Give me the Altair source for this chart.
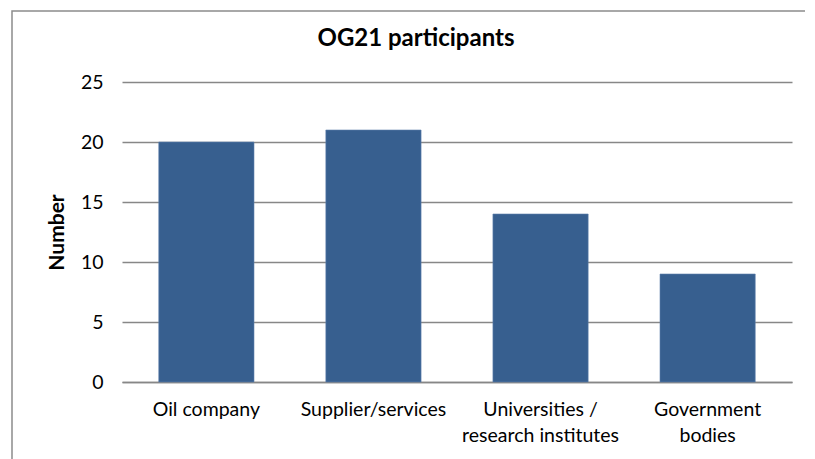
import altair as alt
import pandas as pd

categories = ["Oil company", "Supplier/services", "Universities / research institutes", "Government bodies"]
labels = [["Oil company"], ["Supplier/services"], ["Universities /", "research institutes"], ["Government", "bodies"]]
values = [20, 21, 14, 9]
y_ticks = [0, 5, 10, 15, 20, 25]

df = pd.DataFrame({"category": categories, "value": values})

label_expr = (
    "datum.value == 'Universities / research institutes' ? ['Universities /', 'research institutes'] : "
    "datum.value == 'Government bodies' ? ['Government', 'bodies'] : datum.value"
)

FONT = "Lato"

frame = alt.Chart(pd.DataFrame({"a": [0]})).mark_rect(
    fill="transparent", stroke="#8C8C8C", strokeWidth=1.5
).encode(
    x=alt.value(-110), x2=alt.value(688), y=alt.value(-71), y2=alt.value(420)
)

bars = alt.Chart(df).mark_bar(color="#375F8F", stroke="#5F82AD", strokeWidth=0.6).encode(
    x=alt.X(
        "category:N",
        sort=categories,
        scale=alt.Scale(paddingInner=0.43, paddingOuter=0.22),
        axis=alt.Axis(
            title=None, labelAngle=0, labelExpr=label_expr, labelFont=FONT,
            labelFontSize=19.5, labelColor="#000000", labelPadding=18, labelLineHeight=26,
            ticks=False, domainColor="#878787", domainWidth=1.5, labelLimit=300,
        ),
    ),
    y=alt.Y(
        "value:Q",
        scale=alt.Scale(domain=[0, 25]),
        axis=alt.Axis(
            values=y_ticks, title="Number", titleFont=FONT, titleFontSize=21,
            titleFontWeight="bold", titleColor="#000000", titlePadding=13,
            labelFont=FONT, labelFontSize=19.5, labelColor="#000000", labelPadding=19,
            ticks=False, domain=False, gridColor="#878787", gridWidth=1.5,
        ),
    ),
)

chart = alt.layer(frame, bars).properties(
    width=670,
    height=300,
    padding={"left": 114, "top": 74, "right": 13, "bottom": 77},
    autosize=alt.AutoSizeParams(type="none"),
    background="white",
    title=alt.TitleParams(
        "OG21 participants", font=FONT, fontSize=24, fontWeight="bold",
        color="#000000", anchor="middle", offset=0, dy=41, dx=-41,
    ),
).configure_view(stroke=None)

chart.save("out.html", embed_options={"renderer": "svg", "actions": False})
